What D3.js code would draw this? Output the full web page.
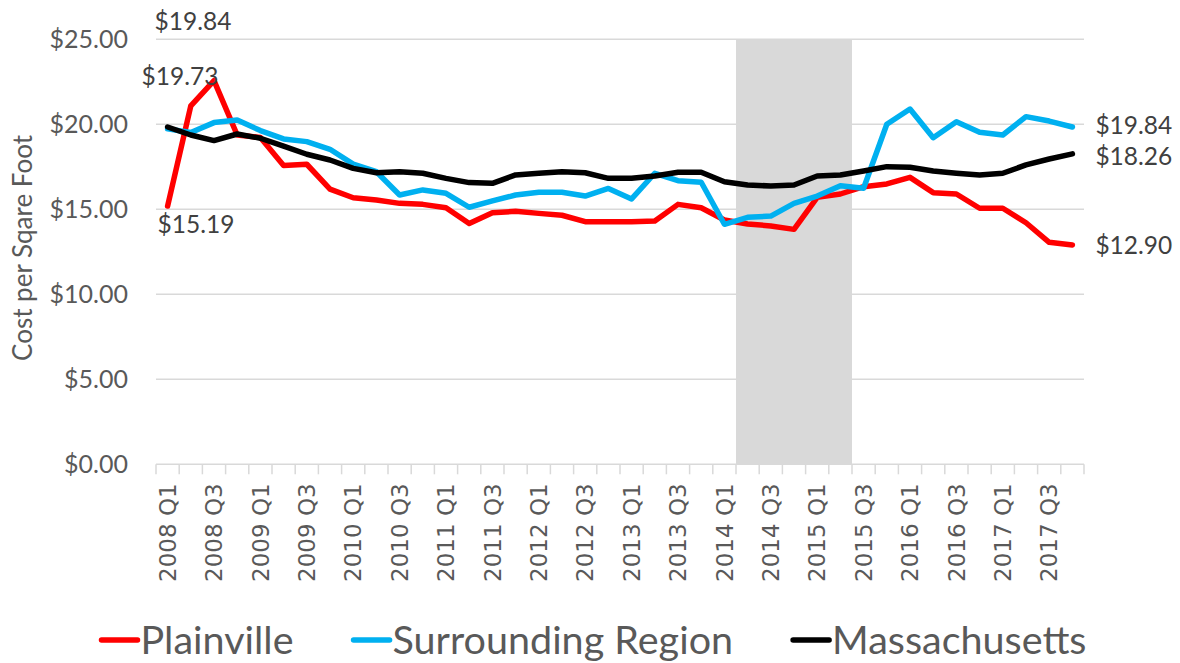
<!DOCTYPE html>
<html>
<head>
<meta charset="utf-8">
<script src="https://cdn.jsdelivr.net/npm/d3@7"></script>
<style>
  body { margin: 0; background: #fff; }
  svg { display: block; }
</style>
</head>
<body>
<div id="chart"></div>
<script>

// Quarters 2008 Q1 .. 2017 Q4
const years = [2008, 2009, 2010, 2011, 2012, 2013, 2014, 2015, 2016, 2017];
const quarters = years.flatMap(y => ["Q1", "Q2", "Q3", "Q4"].map(q => `${y} ${q}`));

// Cost per square foot
const plainville = [
	15.19, 21.08, 22.57, 19.37, 19.23, 17.57, 17.65, 16.19, 15.68, 15.55,
	15.35, 15.29, 15.09, 14.16, 14.80, 14.88, 14.76, 14.65, 14.27, 14.27,
	14.27, 14.31, 15.29, 15.09, 14.37, 14.14, 14.02, 13.82, 15.70, 15.90,
	16.33, 16.49, 16.88, 15.98, 15.90, 15.06, 15.06, 14.21, 13.06, 12.90
];
const surrounding = [
	19.73, 19.52, 20.10, 20.25, 19.63, 19.14, 18.98, 18.53, 17.66, 17.21,
	15.84, 16.14, 15.94, 15.12, 15.49, 15.84, 16.00, 16.00, 15.78, 16.23,
	15.61, 17.12, 16.68, 16.59, 14.12, 14.53, 14.60, 15.35, 15.78, 16.39,
	16.24, 20.00, 20.90, 19.21, 20.15, 19.53, 19.37, 20.45, 20.19, 19.84
];
const massachusetts = [
	19.84, 19.37, 19.04, 19.43, 19.18, 18.72, 18.24, 17.90, 17.41, 17.15,
	17.21, 17.12, 16.82, 16.57, 16.53, 17.02, 17.12, 17.21, 17.15, 16.82,
	16.82, 16.96, 17.18, 17.18, 16.62, 16.43, 16.37, 16.43, 16.96, 17.02,
	17.25, 17.51, 17.47, 17.25, 17.12, 17.02, 17.12, 17.61, 17.96, 18.26
];

const seriesNames = ["Plainville", "Surrounding Region", "Massachusetts"];
const seriesColors = ["#ff0000", "#00b0f0", "#000000"];

// shaded period (first and last quarter covered)
const shadedPeriod = ["2014 Q2", "2015 Q2"];

const yTicks = [0, 5, 10, 15, 20, 25];
const yAxisTitle = "Cost per Sqare Foot";


const series = [plainville, surrounding, massachusetts].map((values, i) => ({
	name: seriesNames[i],
	color: seriesColors[i],
	values: values
}));

const svgWidth = 1180;
const svgHeight = 663;
const margin = {top: 39.3, right: 96, bottom: 198.7, left: 156};

const svg = d3.select("#chart").append("svg")
	.attr("width", svgWidth)
	.attr("height", svgHeight);

const x = d3.scaleBand()
	.domain(quarters)
	.range([margin.left, svgWidth - margin.right])
	.padding(0);

const y = d3.scaleLinear()
	.domain([0, 25])
	.range([svgHeight - margin.bottom, margin.top]);

const cx = q => x(q) + x.bandwidth() / 2;

const fontMain = "Lato, 'Open Sans', sans-serif";
const grey = "#595959";


// GRIDLINES
svg.append("g")
	.attr("class", "grid")
	.selectAll("line")
	.data(yTicks.filter(d => d > 0))
	.enter()
	.append("line")
		.attr("x1", x.range()[0])
		.attr("x2", x.range()[1])
		.attr("y1", d => y(d))
		.attr("y2", d => y(d))
		.attr("stroke", "#d9d9d9")
		.attr("stroke-width", 1.5);


// SHADED PERIOD
svg.append("rect")
	.attr("x", x(shadedPeriod[0]))
	.attr("y", y(25))
	.attr("width", x(shadedPeriod[1]) + x.bandwidth() - x(shadedPeriod[0]))
	.attr("height", y(0) - y(25))
	.attr("fill", "#d9d9d9");


// X AXIS - line, boundary ticks and rotated labels
const gX = svg.append("g").attr("class", "axis-x");

gX.append("line")
	.attr("x1", x.range()[0])
	.attr("x2", x.range()[1])
	.attr("y1", y(0))
	.attr("y2", y(0))
	.attr("stroke", "#d9d9d9")
	.attr("stroke-width", 1.5);

const boundaries = quarters.map(q => x(q)).concat([x.range()[1]]);
gX.selectAll("line.tick")
	.data(boundaries)
	.enter()
	.append("line")
		.attr("class", "tick")
		.attr("x1", d => d)
		.attr("x2", d => d)
		.attr("y1", y(0))
		.attr("y2", y(0) + 10)
		.attr("stroke", "#d9d9d9")
		.attr("stroke-width", 1.5);

gX.selectAll("text")
	.data(quarters.filter((q, i) => i % 2 == 0))
	.enter()
	.append("text")
		.attr("transform", d => `translate(${cx(d)},${y(0) + 19}) rotate(-90)`)
		.attr("dy", "0.36em")
		.attr("text-anchor", "end")
		.attr("font-family", "'DejaVu Sans', sans-serif")
		.attr("font-size", 23)
		.attr("fill", grey)
		.text(d => d);


// Y AXIS - labels only
const gY = svg.append("g").attr("class", "axis-y");

gY.selectAll("text")
	.data(yTicks)
	.enter()
	.append("text")
		.attr("x", margin.left - 28)
		.attr("y", d => y(d))
		.attr("dy", "0.36em")
		.attr("text-anchor", "end")
		.attr("font-family", fontMain)
		.attr("font-size", 25)
		.attr("fill", grey)
		.text(d => d3.format("$.2f")(d));

gY.append("text")
	.attr("transform", `translate(23,248) rotate(-90)`)
	.attr("dy", "0.36em")
	.attr("text-anchor", "middle")
	.attr("font-family", fontMain)
	.attr("font-size", 26)
	.attr("fill", grey)
	.text(yAxisTitle);


// LINES
const line = d3.line()
	.x((d, i) => cx(quarters[i]))
	.y(d => y(d));

svg.append("g")
	.attr("class", "lines")
	.selectAll("path")
	.data(series)
	.enter()
	.append("path")
		.attr("d", d => line(d.values))
		.attr("fill", "none")
		.attr("stroke", d => d.color)
		.attr("stroke-width", 5.5)
		.attr("stroke-linejoin", "round")
		.attr("stroke-linecap", "round");


// DATA LABELS - first and last values. The first ones were dragged around in the original.
const last = quarters.length - 1;
const labels = [
	{s: 0, i: 0,    dx: -10, dy: 27},
	{s: 1, i: 0,    dx: -26, dy: -44},
	{s: 2, i: 0,    dx: -13, dy: -97},
	{s: 0, i: last, dx: 23,  dy: 9},
	{s: 1, i: last, dx: 23,  dy: 7},
	{s: 2, i: last, dx: 23,  dy: 11}
];

svg.append("g")
	.attr("class", "data-labels")
	.selectAll("text")
	.data(labels)
	.enter()
	.append("text")
		.attr("x", d => cx(quarters[d.i]) + d.dx)
		.attr("y", d => y(series[d.s].values[d.i]) + d.dy)
		.attr("font-family", fontMain)
		.attr("font-size", 24.5)
		.attr("fill", "#404040")
		.text(d => d3.format("$.2f")(series[d.s].values[d.i]));


// LEGEND
const legend = svg.append("g").attr("class", "legend");
const legendY = 640;
const swatch = 36;
const itemGap = 60;

const items = legend.selectAll("g")
	.data(series)
	.enter()
	.append("g");

items.append("line")
	.attr("x1", 0)
	.attr("x2", swatch)
	.attr("y1", 0)
	.attr("y2", 0)
	.attr("stroke", d => d.color)
	.attr("stroke-width", 5.5)
	.attr("stroke-linecap", "round");

items.append("text")
	.attr("x", swatch + 3)
	.attr("dy", "0.36em")
	.attr("font-family", fontMain)
	.attr("font-size", 39.5)
	.attr("fill", grey)
	.text(d => d.name);

// lay out the items one after the other, centred a touch right like the original
let widths = [];
items.each(function(){ widths.push(this.getBBox().width) });
const total = d3.sum(widths) + itemGap * (widths.length - 1);
let pos = 594 - total / 2;
items.attr("transform", (d, i) => {
	const t = `translate(${pos},${legendY})`;
	pos += widths[i] + itemGap;
	return t;
});

</script>
</body>
</html>
